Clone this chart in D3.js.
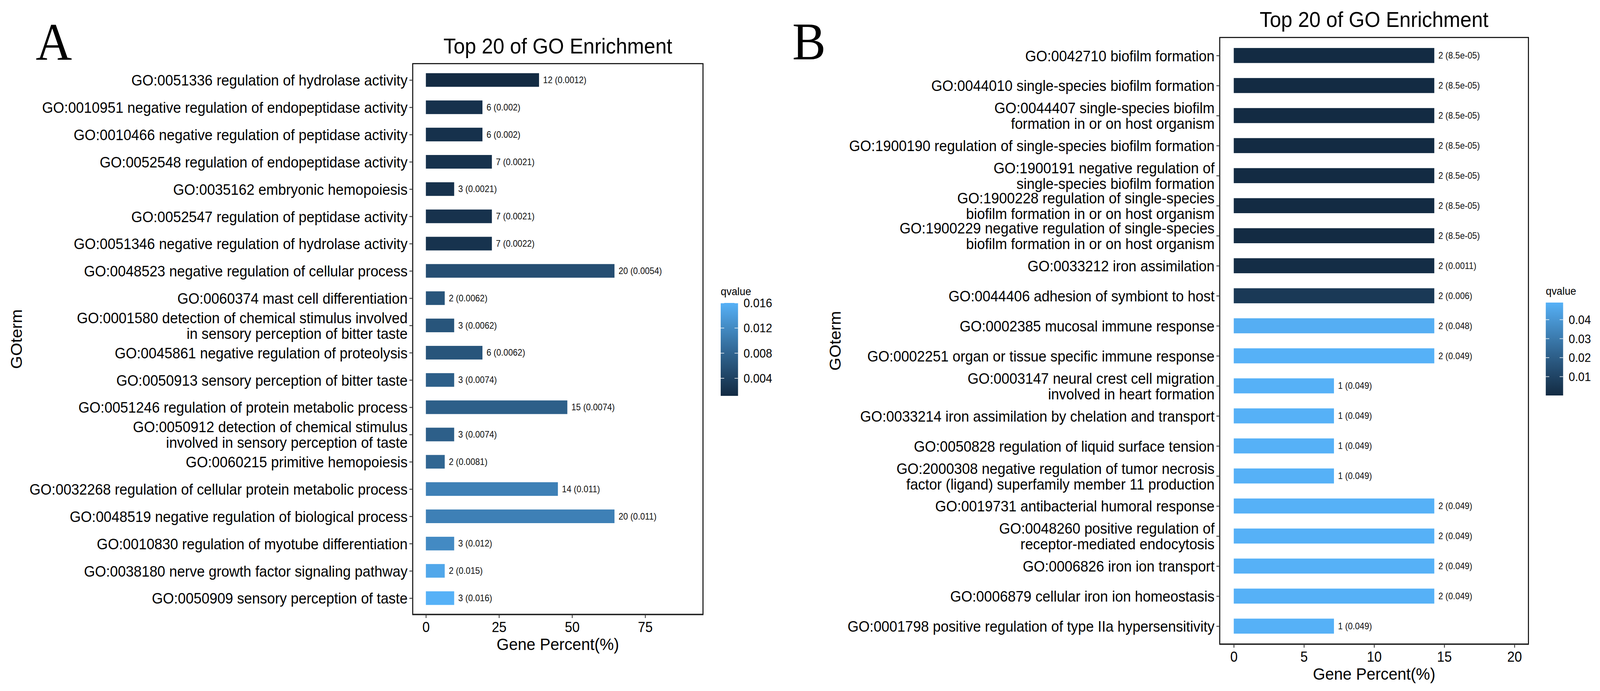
<!DOCTYPE html>
<html><head><meta charset="utf-8">
<script src="https://cdn.jsdelivr.net/npm/d3@7"></script>
<style>html,body{margin:0;padding:0;background:#fff;overflow:hidden} svg{display:block;width:100vw;height:100vh}</style>
</head><body>
<script>
// ---------------- Panel A data ----------------
const termsA = [
  "GO:0051336 regulation of hydrolase activity",
  "GO:0010951 negative regulation of endopeptidase activity",
  "GO:0010466 negative regulation of peptidase activity",
  "GO:0052548 regulation of endopeptidase activity",
  "GO:0035162 embryonic hemopoiesis",
  "GO:0052547 regulation of peptidase activity",
  "GO:0051346 negative regulation of hydrolase activity",
  "GO:0048523 negative regulation of cellular process",
  "GO:0060374 mast cell differentiation",
  "GO:0001580 detection of chemical stimulus involved\nin sensory perception of bitter taste",
  "GO:0045861 negative regulation of proteolysis",
  "GO:0050913 sensory perception of bitter taste",
  "GO:0051246 regulation of protein metabolic process",
  "GO:0050912 detection of chemical stimulus\ninvolved in sensory perception of taste",
  "GO:0060215 primitive hemopoiesis",
  "GO:0032268 regulation of cellular protein metabolic process",
  "GO:0048519 negative regulation of biological process",
  "GO:0010830 regulation of myotube differentiation",
  "GO:0038180 nerve growth factor signaling pathway",
  "GO:0050909 sensory perception of taste"
];
const percentA = [38.71, 19.35, 19.35, 22.58, 9.68, 22.58, 22.58, 64.52, 6.45, 9.68,
                  19.35, 9.68, 48.39, 9.68, 6.45, 45.16, 64.52, 9.68, 6.45, 9.68];
const countA = [12, 6, 6, 7, 3, 7, 7, 20, 2, 3, 6, 3, 15, 3, 2, 14, 20, 3, 2, 3];
const qvalueA = [0.0012, 0.002, 0.002, 0.0021, 0.0021, 0.0021, 0.0022, 0.0054, 0.0062, 0.0062,
                 0.0062, 0.0074, 0.0074, 0.0074, 0.0081, 0.011, 0.011, 0.012, 0.015, 0.016];
const qTextA = ["0.0012","0.002","0.002","0.0021","0.0021","0.0021","0.0022","0.0054","0.0062","0.0062",
                "0.0062","0.0074","0.0074","0.0074","0.0081","0.011","0.011","0.012","0.015","0.016"];
const xTicksA = [0, 25, 50, 75];
const legendTicksA = [0.004, 0.008, 0.012, 0.016];

// ---------------- Panel B data ----------------
const termsB = [
  "GO:0042710 biofilm formation",
  "GO:0044010 single-species biofilm formation",
  "GO:0044407 single-species biofilm\nformation in or on host organism",
  "GO:1900190 regulation of single-species biofilm formation",
  "GO:1900191 negative regulation of\nsingle-species biofilm formation",
  "GO:1900228 regulation of single-species\nbiofilm formation in or on host organism",
  "GO:1900229 negative regulation of single-species\nbiofilm formation in or on host organism",
  "GO:0033212 iron assimilation",
  "GO:0044406 adhesion of symbiont to host",
  "GO:0002385 mucosal immune response",
  "GO:0002251 organ or tissue specific immune response",
  "GO:0003147 neural crest cell migration\ninvolved in heart formation",
  "GO:0033214 iron assimilation by chelation and transport",
  "GO:0050828 regulation of liquid surface tension",
  "GO:2000308 negative regulation of tumor necrosis\nfactor (ligand) superfamily member 11 production",
  "GO:0019731 antibacterial humoral response",
  "GO:0048260 positive regulation of\nreceptor-mediated endocytosis",
  "GO:0006826 iron ion transport",
  "GO:0006879 cellular iron ion homeostasis",
  "GO:0001798 positive regulation of type IIa hypersensitivity"
];
const percentB = [14.29, 14.29, 14.29, 14.29, 14.29, 14.29, 14.29, 14.29, 14.29, 14.29,
                  14.29, 7.14, 7.14, 7.14, 7.14, 14.29, 14.29, 14.29, 14.29, 7.14];
const countB = [2, 2, 2, 2, 2, 2, 2, 2, 2, 2, 2, 1, 1, 1, 1, 2, 2, 2, 2, 1];
const qvalueB = [0.000085, 0.000085, 0.000085, 0.000085, 0.000085, 0.000085, 0.000085, 0.0011, 0.006, 0.048,
                 0.049, 0.049, 0.049, 0.049, 0.049, 0.049, 0.049, 0.049, 0.049, 0.049];
const qTextB = ["8.5e-05","8.5e-05","8.5e-05","8.5e-05","8.5e-05","8.5e-05","8.5e-05","0.0011","0.006","0.048",
                "0.049","0.049","0.049","0.049","0.049","0.049","0.049","0.049","0.049","0.049"];
const xTicksB = [0, 5, 10, 15, 20];
const legendTicksB = [0.01, 0.02, 0.03, 0.04];

const titleText = "Top 20 of GO Enrichment";
const xTitle = "Gene Percent(%)";
const yTitle = "GOterm";
const legendTitle = "qvalue";
const lowColor = "#132B43", highColor = "#56B1F7";

// ---------------- drawing ----------------
const W = 4338, H = 1770;
const FONT = "'Liberation Sans', Arial, Helvetica, sans-serif";
const svg = d3.select("body").append("svg")
  .attr("viewBox", `0 0 ${W} ${H}`)
  .attr("preserveAspectRatio", "none")
  .style("font-family", FONT);
svg.append("rect").attr("width", W).attr("height", H).attr("fill", "#fff");
const defs = svg.append("defs");

function panel(cfg, terms, percent, count, qval, qtext, xticks, legTicks) {
  const [L, T, R, B] = cfg.box;
  const g = svg.append("g");

  const x = d3.scaleLinear().domain(cfg.xdomain).range([L, R]);
  const y = d3.scalePoint().domain(terms).range([T, B]).padding(0.6);
  const bh = y.step() * 0.5;
  const qext = d3.extent(qval);
  const col = d3.scaleLinear().domain(qext).range([lowColor, highColor]).interpolate(d3.interpolateLab);

  // bars
  g.append("g").selectAll("rect").data(terms).join("rect")
    .attr("x", x(0))
    .attr("y", d => y(d) - bh / 2)
    .attr("width", (d, i) => x(percent[i]) - x(0))
    .attr("height", bh)
    .attr("fill", (d, i) => col(qval[i]));

  // value labels
  g.append("g").selectAll("text").data(terms).join("text")
    .attr("x", (d, i) => x(percent[i]) + 11)
    .attr("y", d => y(d))
    .attr("dy", "0.35em")
    .attr("font-size", 23)
    .attr("fill", "#111")
    .text((d, i) => `${count[i]} (${qtext[i]})`);

  // panel border
  g.append("rect").attr("x", L).attr("y", T).attr("width", R - L).attr("height", B - T)
    .attr("fill", "none").attr("stroke", "#000").attr("stroke-width", 2.6);
  g.append("line").attr("x1", L - 1).attr("x2", R + 1).attr("y1", B).attr("y2", B)
    .attr("stroke", "#222").attr("stroke-width", 3.4);

  // x axis
  const xa = g.append("g").attr("transform", `translate(0,${B})`)
    .call(d3.axisBottom(x).tickValues(xticks).tickSize(9).tickSizeOuter(0).tickPadding(10).tickFormat(d3.format("d")));
  xa.select(".domain").remove();
  xa.selectAll(".tick line").attr("stroke", "#333").attr("stroke-width", 2.2);
  xa.selectAll(".tick text").attr("font-size", 36).attr("font-family", FONT).attr("fill", "#000");

  // y axis
  const ya = g.append("g").attr("transform", `translate(${L},0)`)
    .call(d3.axisLeft(y).tickSize(9).tickSizeOuter(0).tickPadding(5));
  ya.select(".domain").remove();
  ya.selectAll(".tick line").attr("stroke", "#333").attr("stroke-width", 2.2);
  const fs = 38.5, lh = 40;
  ya.selectAll(".tick text").each(function (d) {
    const t = d3.select(this);
    const lines = d.split("\n");
    t.text(null).attr("dy", null).attr("font-size", fs).attr("font-family", FONT).attr("fill", "#000");
    lines.forEach((ln, i) => {
      t.append("tspan").attr("x", -14)
        .attr("y", (i - (lines.length - 1) / 2) * lh + 0.36 * fs)
        .text(ln);
    });
  });

  // titles
  g.append("text").attr("x", (L + R) / 2).attr("y", cfg.titleY).attr("text-anchor", "middle")
    .attr("font-size", 55).text(titleText);
  g.append("text").attr("x", (L + R) / 2).attr("y", B + 91).attr("text-anchor", "middle")
    .attr("font-size", 43).text(xTitle);
  g.append("text").attr("transform", `translate(${cfg.goX},${(T + B) / 2}) rotate(-90)`)
    .attr("text-anchor", "middle").attr("font-size", 43).text(yTitle);

  // panel letter
  g.append("text").attr("x", cfg.letterX).attr("y", cfg.letterY)
    .attr("font-family", "'Liberation Serif', 'Times New Roman', serif")
    .attr("font-size", 136).text(cfg.letter);

  // colour bar legend
  const lg = cfg.legend;
  const gid = "grad" + cfg.letter;
  const grad = defs.append("linearGradient").attr("id", gid)
    .attr("x1", 0).attr("y1", 1).attr("x2", 0).attr("y2", 0);
  d3.range(0, 1.0001, 0.05).forEach(t => {
    grad.append("stop").attr("offset", t)
      .attr("stop-color", col(qext[0] + t * (qext[1] - qext[0])));
  });
  const ly = d3.scaleLinear().domain(qext).range([lg.y + lg.h, lg.y]);
  g.append("text").attr("x", lg.x).attr("y", lg.y - 20).attr("font-size", 28).text(legendTitle);
  g.append("rect").attr("x", lg.x).attr("y", lg.y).attr("width", lg.w).attr("height", lg.h)
    .attr("fill", `url(#${gid})`);
  const tl = lg.w / 5;
  legTicks.forEach(v => {
    const yy = ly(v);
    g.append("line").attr("x1", lg.x).attr("x2", lg.x + tl).attr("y1", yy).attr("y2", yy)
      .attr("stroke", "#fff").attr("stroke-opacity", 0.75).attr("stroke-width", 2);
    g.append("line").attr("x1", lg.x + lg.w - tl).attr("x2", lg.x + lg.w).attr("y1", yy).attr("y2", yy)
      .attr("stroke", "#fff").attr("stroke-opacity", 0.75).attr("stroke-width", 2);
    g.append("text").attr("x", lg.x + lg.w + 15).attr("y", yy).attr("dy", "0.36em")
      .attr("font-size", 31).text(String(v));
  });
}

panel({box: [1119, 163, 1906, 1574], xdomain: [-4.5, 94.8], titleY: 137,
       letter: "A", letterX: 97, letterY: 153, goX: 59,
       legend: {x: 1954, y: 776, w: 47, h: 238}},
      termsA, percentA, countA, qvalueA, qTextA, xTicksA, legendTicksA);

panel({box: [3307, 96, 4144, 1650], xdomain: [-1, 21], titleY: 69,
       letter: "B", letterX: 2148, letterY: 152, goX: 2279,
       legend: {x: 4191, y: 775, w: 47, h: 238}},
      termsB, percentB, countB, qvalueB, qTextB, xTicksB, legendTicksB);
</script>
</body></html>
